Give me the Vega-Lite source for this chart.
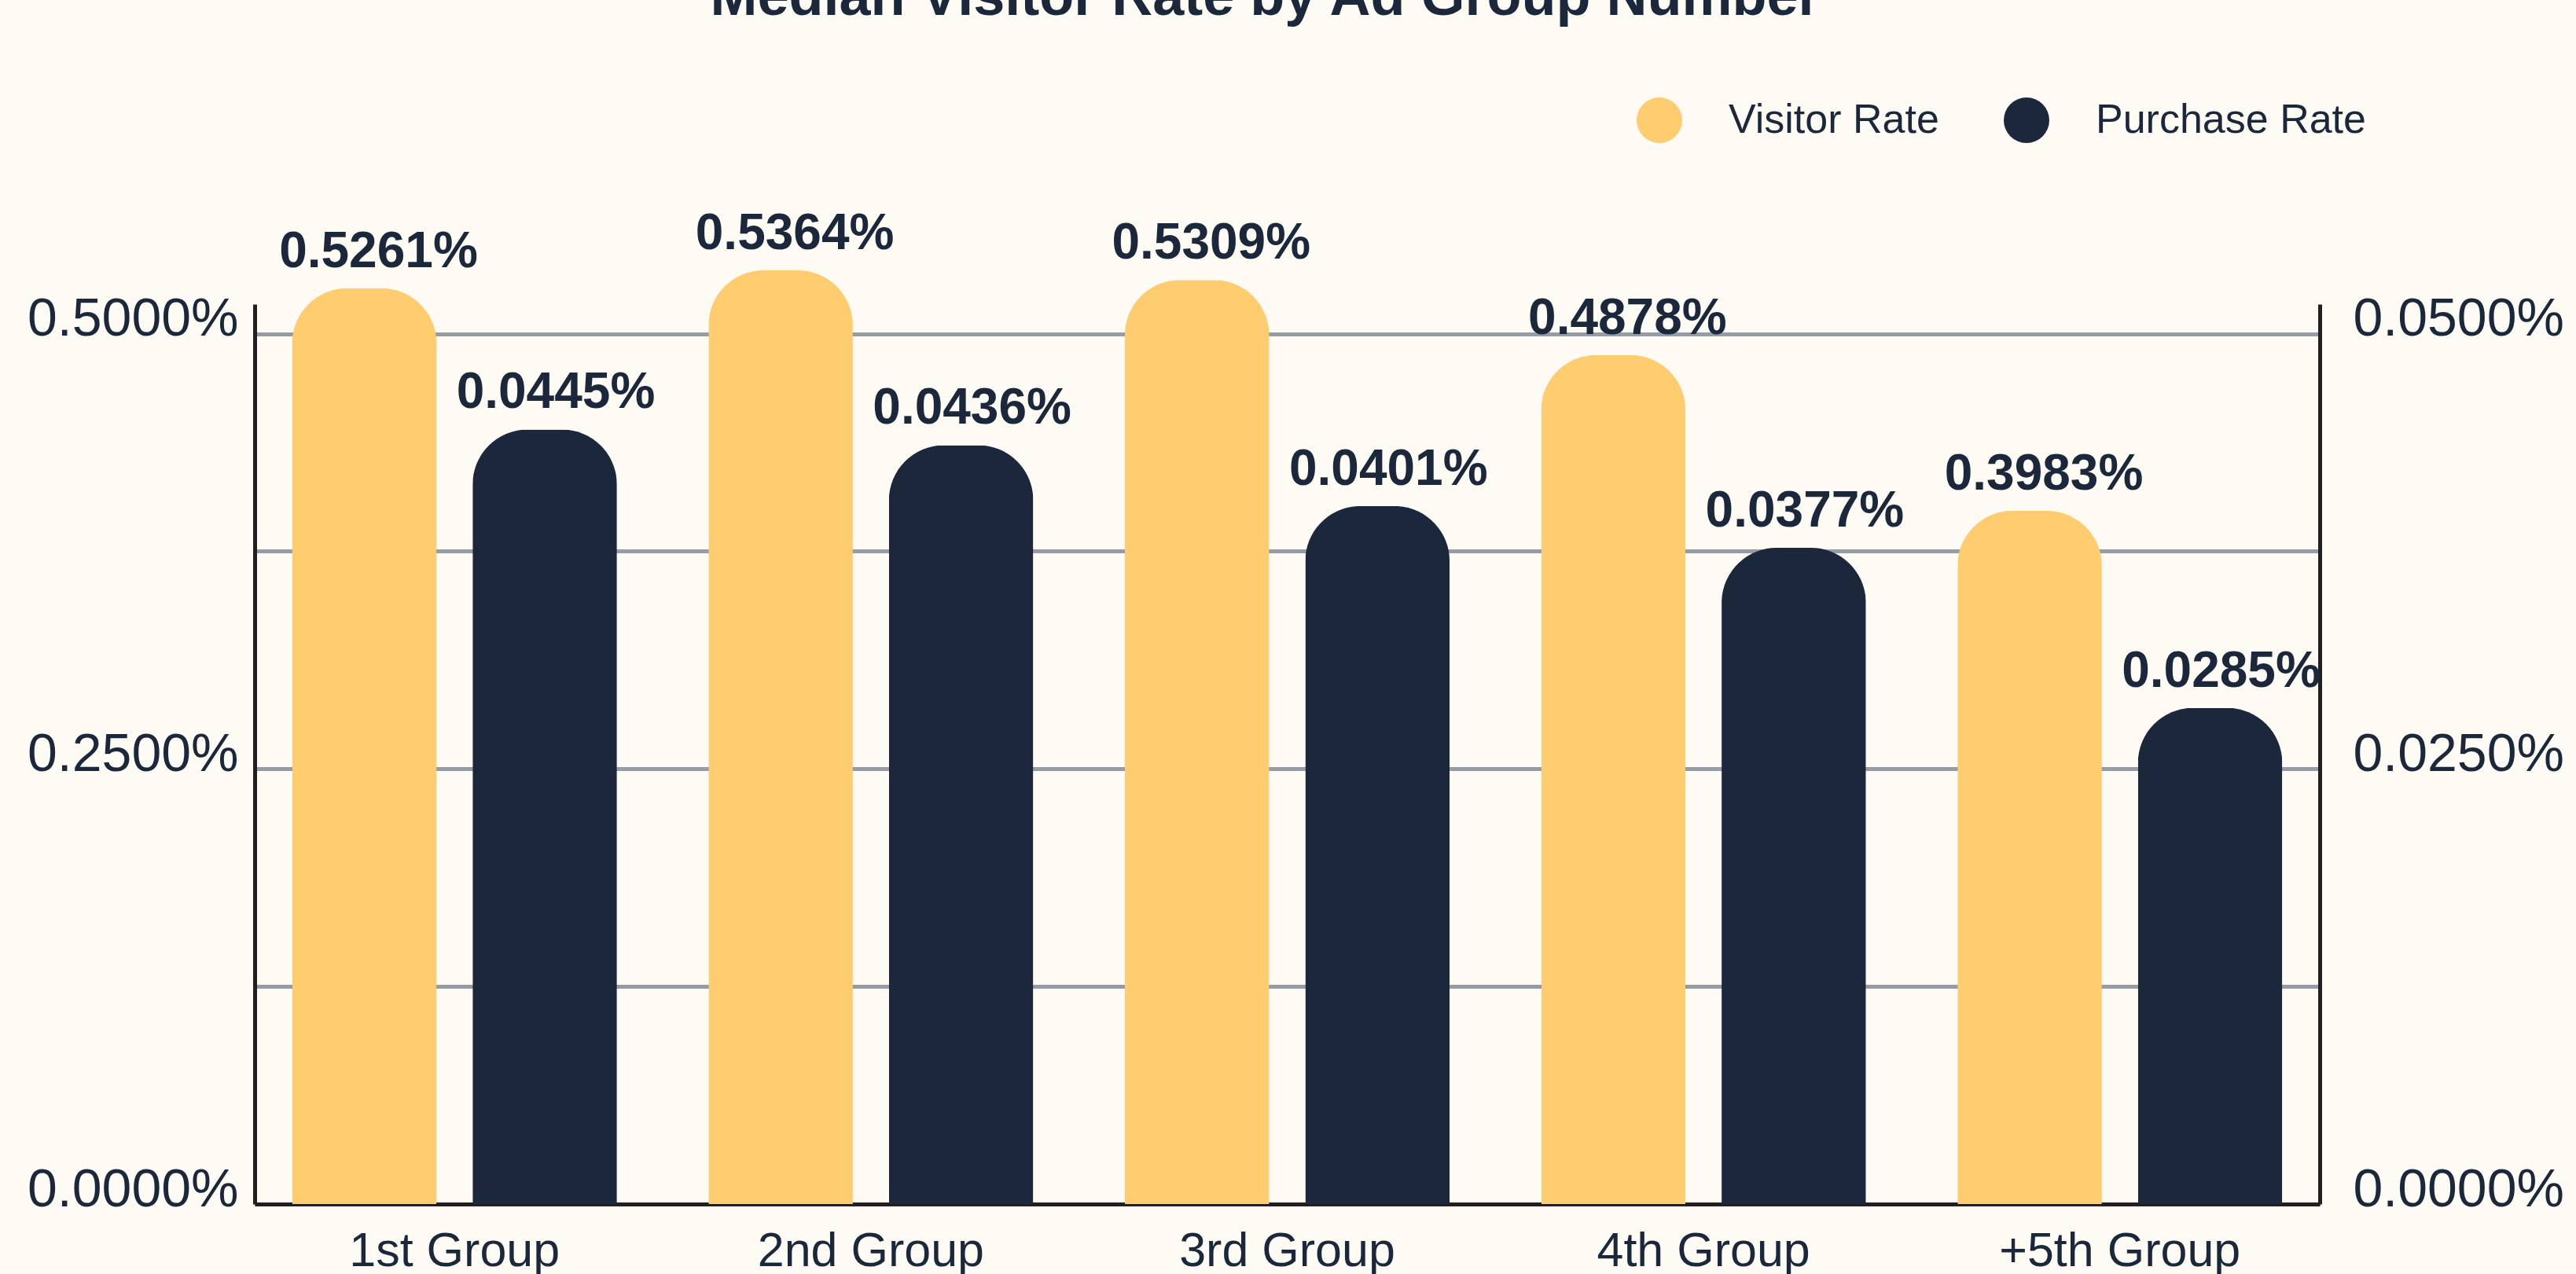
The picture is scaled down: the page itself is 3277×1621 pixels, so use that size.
{
  "$schema": "https://vega.github.io/schema/vega-lite/v6.json",
  "width": 2627,
  "height": 1145,
  "autosize": {"type": "none"},
  "padding": {"left": 324, "top": 387, "right": 326, "bottom": 89},
  "background": "#FEFBF5",
  "config": {"view": {"stroke": null}, "font": "Liberation Sans"},
  "title": {
    "text": "Median Visitor Rate by Ad Group Number",
    "fontSize": 72,
    "fontWeight": "bold",
    "color": "#1B283B",
    "anchor": "middle",
    "frame": "group",
    "baseline": "alphabetic",
    "offset": 33,
    "dx": -28
  },
  "data": {
    "values": [
      {"group": "1st Group", "series": "Visitor Rate", "rate": 0.005261},
      {"group": "1st Group", "series": "Purchase Rate", "rate": 0.000445},
      {"group": "2nd Group", "series": "Visitor Rate", "rate": 0.005364},
      {"group": "2nd Group", "series": "Purchase Rate", "rate": 0.000436},
      {"group": "3rd Group", "series": "Visitor Rate", "rate": 0.005309},
      {"group": "3rd Group", "series": "Purchase Rate", "rate": 0.000401},
      {"group": "4th Group", "series": "Visitor Rate", "rate": 0.004878},
      {"group": "4th Group", "series": "Purchase Rate", "rate": 0.000377},
      {"group": "+5th Group", "series": "Visitor Rate", "rate": 0.003983},
      {"group": "+5th Group", "series": "Purchase Rate", "rate": 0.000285}
    ]
  },
  "encoding": {
    "x": {
      "field": "group",
      "type": "nominal",
      "sort": ["1st Group", "2nd Group", "3rd Group", "4th Group", "+5th Group"],
      "scale": {"paddingInner": 0.22, "paddingOuter": 0.09},
      "axis": {
        "title": null,
        "labelAngle": 0,
        "labelFontSize": 61,
        "labelColor": "#1B283B",
        "labelPadding": 30,
        "labelLimit": 1000,
        "ticks": false,
        "domainColor": "#231F20",
        "domainWidth": 5,
        "grid": false
      }
    },
    "xOffset": {
      "field": "series",
      "type": "nominal",
      "scale": {"domain": ["Visitor Rate", "Purchase Rate"], "paddingInner": 0.2, "paddingOuter": 0}
    },
    "color": {
      "field": "series",
      "type": "nominal",
      "scale": {"domain": ["Visitor Rate", "Purchase Rate"], "range": ["#FFCC70", "#1B283B"]},
      "legend": {
        "title": null,
        "orient": "none",
        "legendX": 1758,
        "legendY": -263,
        "direction": "horizontal",
        "symbolType": "circle",
        "symbolSize": 3364,
        "symbolStrokeWidth": 0,
        "labelFontSize": 52,
        "labelColor": "#1B283B",
        "labelOffset": 59,
        "columnPadding": 82,
        "labelLimit": 600,
        "padding": 0
      }
    }
  },
  "layer": [
    {
      "transform": [{"filter": "datum.series == 'Visitor Rate'"}],
      "encoding": {
        "y": {
          "field": "rate",
          "type": "quantitative",
          "scale": {"domain": [0, 0.00517], "nice": false, "zero": true},
          "axis": {
            "title": null,
            "orient": "left",
            "values": [0, 0.00125, 0.0025, 0.00375, 0.005],
            "format": ".4%",
            "labelExpr": "round(datum.value * 10000) % 25 == 0 ? datum.label : ''",
            "labelFontSize": 68,
            "labelColor": "#1B283B",
            "labelPadding": 21,
            "labelOffset": -18,
            "labelLimit": 1000,
            "ticks": false,
            "domainColor": "#231F20",
            "domainWidth": 5,
            "grid": true,
            "gridColor": "#959CA6",
            "gridWidth": 5
          }
        }
      },
      "layer": [
        {"mark": {"type": "bar", "cornerRadiusTopLeft": 70, "cornerRadiusTopRight": 70}},
        {
          "mark": {"type": "text", "baseline": "bottom", "dy": -14, "dx": 18, "fontSize": 64, "fontWeight": "bold", "color": "#1B283B"},
          "encoding": {"text": {"field": "rate", "type": "quantitative", "format": ".4%"}, "color": {"value": "#1B283B"}}
        }
      ]
    },
    {
      "transform": [{"filter": "datum.series == 'Purchase Rate'"}],
      "encoding": {
        "y": {
          "field": "rate",
          "type": "quantitative",
          "scale": {"domain": [0, 0.000517], "nice": false, "zero": true},
          "axis": {
            "title": null,
            "orient": "right",
            "values": [0, 0.00025, 0.0005],
            "format": ".4%",
            "labelFontSize": 68,
            "labelColor": "#1B283B",
            "labelPadding": 42,
            "labelOffset": -18,
            "labelLimit": 1000,
            "ticks": false,
            "domainColor": "#231F20",
            "domainWidth": 5,
            "grid": false
          }
        }
      },
      "layer": [
        {"mark": {"type": "bar", "cornerRadiusTopLeft": 70, "cornerRadiusTopRight": 70}},
        {
          "mark": {"type": "text", "baseline": "bottom", "dy": -14, "dx": 14, "fontSize": 64, "fontWeight": "bold", "color": "#1B283B"},
          "encoding": {"text": {"field": "rate", "type": "quantitative", "format": ".4%"}, "color": {"value": "#1B283B"}}
        }
      ]
    }
  ],
  "resolve": {"scale": {"y": "independent"}, "axis": {"y": "independent"}}
}
